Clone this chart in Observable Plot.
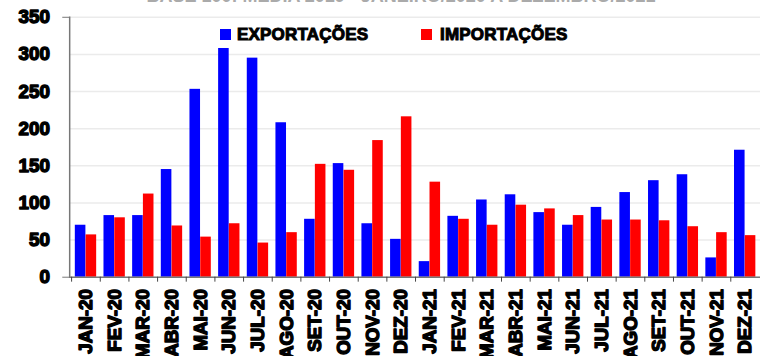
<!DOCTYPE html>
<html><head><meta charset="utf-8">
<script src="https://cdn.jsdelivr.net/npm/d3@7"></script>
<script src="https://cdn.jsdelivr.net/npm/@observablehq/plot@0.6"></script>
<style>
body{margin:0;width:760px;height:360px;overflow:hidden;background:#fff;position:relative;font-family:"Liberation Sans",Arial,sans-serif}
#title{position:absolute;top:-14px;left:0;width:802px;text-align:center;font-weight:bold;font-size:18px;line-height:20px;color:#aaa;white-space:nowrap;z-index:2}
#chart{position:absolute;top:0;left:0;z-index:1}
#chart svg text{paint-order:stroke;stroke:#000;stroke-width:1.4px;stroke-linejoin:round}
.leg{position:absolute;top:25px;font-weight:bold;font-size:17px;line-height:19px;letter-spacing:0.2px;-webkit-text-stroke:1px #000;color:#000;white-space:nowrap;z-index:3}
.sw{position:absolute;top:29px;width:11px;height:11px;z-index:3}
</style></head><body>
<div id="title">BASE 100: MÉDIA 2019 - JANEIRO/2020 A DEZEMBRO/2021</div>
<div id="chart"></div>
<div class="sw" style="left:220px;background:#0000FF"></div><div class="leg" style="left:237px">EXPORTAÇÕES</div>
<div class="sw" style="left:421px;background:#FF0000"></div><div class="leg" style="left:440px">IMPORTAÇÕES</div>
<script>
const months = ["JAN-20","FEV-20","MAR-20","ABR-20","MAI-20","JUN-20","JUL-20","AGO-20","SET-20","OUT-20","NOV-20","DEZ-20",
  "JAN-21","FEV-21","MAR-21","ABR-21","MAI-21","JUN-21","JUL-21","AGO-21","SET-21","OUT-21","NOV-21","DEZ-21"];
const exportacoes = [70,83,83,145,253,308,295,208,78,153,72,51,21,82,104,111,87,70,94,114,130,138,26,171];
const importacoes = [57,80,112,69,54,72,46,60,152,144,184,216,128,78,70,97,92,83,77,77,76,68,60,56];
const series = ["EXPORTAÇÕES","IMPORTAÇÕES"];
const colors = ["#0000FF","#FF0000"];
const yTicks = [0,50,100,150,200,250,300,350];

const expData = months.map((m,i)=>({month:m, series:series[0], value:exportacoes[i]}));
const impData = months.map((m,i)=>({month:m, series:series[1], value:importacoes[i]}));

const chart = Plot.plot({
  width: 769, height: 360,
  marginTop: 17, marginBottom: 80, marginLeft: 70, marginRight: 0,
  style: {fontFamily: '"Liberation Sans", Arial, sans-serif', fontSize: "19px", fontWeight: "bold", color: "#000", background: "transparent"},
  x: {domain: months, padding: 0, label: null, axis: null},
  y: {domain: [0,350], label: null, axis: null},
  color: {domain: series, range: colors},
  marks: [
    Plot.gridY(yTicks, {stroke: "#ebebeb", strokeOpacity: 1, strokeWidth: 1.5}),
    Plot.barY(expData, {x: "month", y: "value", fill: "series", insetLeft: 3.7, insetRight: 14.6}),
    Plot.barY(impData, {x: "month", y: "value", fill: "series", insetLeft: 14.6, insetRight: 3.7}),
    Plot.ruleY([0], {stroke: "#777", strokeWidth: 1.5}),
    Plot.frame({anchor: "left", stroke: "#777", strokeWidth: 1.5}),
    Plot.axisY(yTicks, {tickSize: 0, tickPadding: 20, fontSize: 19, fill: "#000"}),
    Plot.axisY([0,350], {tickSize: 7, tickFormat: () => "", stroke: "#777"}),
    Plot.axisX({tickSize: 0, tickPadding: 12, tickRotate: -90, fontSize: 19, fill: "#000"}),
    Plot.axisX({tickSize: 5, tickFormat: () => "", stroke: "#444", dx: -14.55})
  ]
});
document.getElementById("chart").appendChild(chart);
</script>
</body></html>
